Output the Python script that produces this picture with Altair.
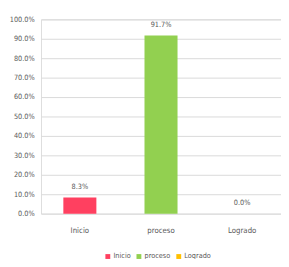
import altair as alt
import pandas as pd

categories = ["Inicio", "proceso", "Logrado"]
values = [0.083, 0.917, 0.0]
colors = ["#FF4060", "#92D050", "#FFC000"]
y_ticks = [0.0, 0.1, 0.2, 0.3, 0.4, 0.5, 0.6, 0.7, 0.8, 0.9, 1.0]

df = pd.DataFrame({"cat": categories, "val": values})

FONT = "DejaVu Sans Condensed"
GREY = "#595959"

base = alt.Chart(df).encode(
    x=alt.X("cat:N", sort=categories, title=None,
            scale=alt.Scale(paddingInner=0.593, paddingOuter=0.275),
            axis=alt.Axis(labelAngle=0, labelPadding=13, ticks=False, domain=False,
                          labelFont=FONT, labelFontSize=8, labelColor=GREY)),
    y=alt.Y("val:Q", title=None, scale=alt.Scale(domain=[0, 1]),
            axis=alt.Axis(format=".1%", values=y_ticks, tickCount=11, grid=True,
                          labelOverlap=False,
                          ticks=False, domain=False, gridColor="#d9d9d9",
                          labelFont=FONT, labelFontSize=7.5, labelColor=GREY, labelPadding=7)),
)

bars = base.mark_bar().encode(
    color=alt.Color("cat:N", sort=categories,
                    scale=alt.Scale(domain=categories, range=colors),
                    legend=alt.Legend(title=None, orient="none", direction="horizontal",
                                      legendX=65, legendY=240, symbolType="square",
                                      symbolSize=25, labelFont=FONT, labelFontSize=7.5,
                                      labelColor=GREY, columnPadding=4, labelOffset=2)),
)

labels = base.mark_text(dy=-11, font=FONT, fontSize=7.5, color=GREY).encode(
    text=alt.Text("val:Q", format=".1%"),
)

chart = (bars + labels).properties(
    width=247, height=200,
    autosize=alt.AutoSizeParams(type="none"),
    padding={"left": 34, "top": 8, "right": 0, "bottom": 43},
).configure_view(stroke=None).configure(background="white")

chart.save("out.html", embed_options={"renderer": "svg", "actions": False})
